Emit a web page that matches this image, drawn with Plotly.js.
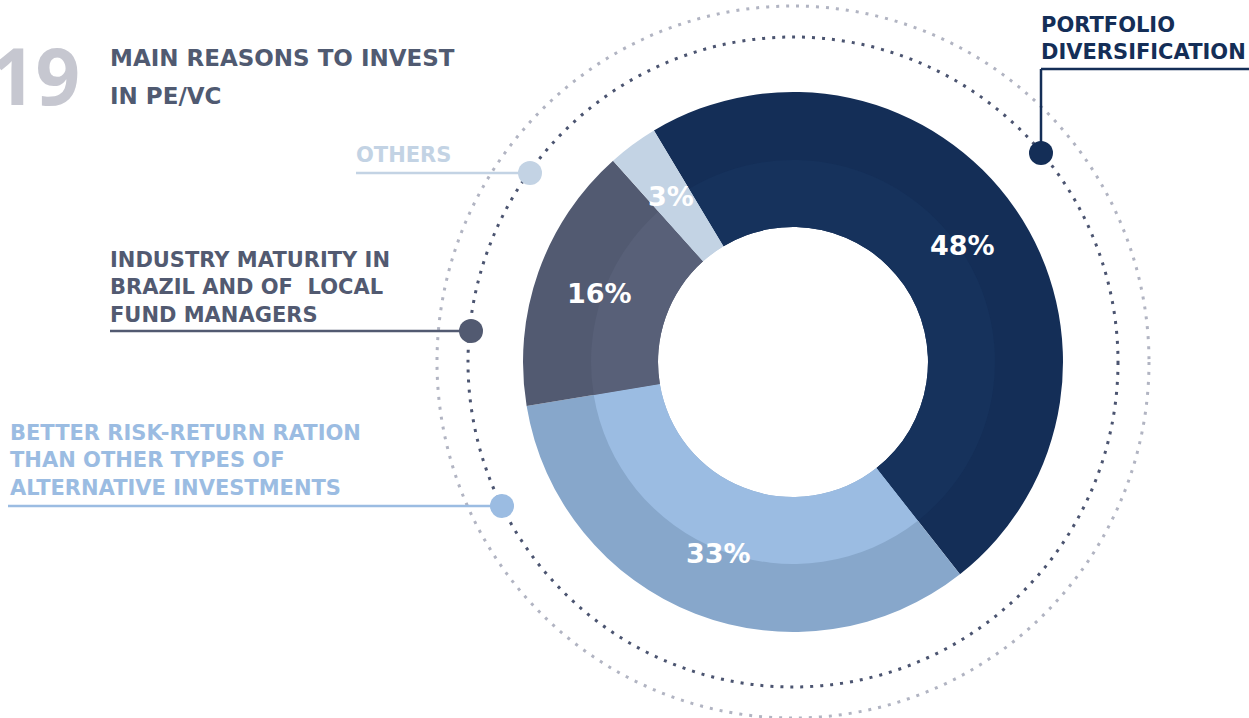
<!DOCTYPE html>
<html><head><meta charset="utf-8">
<script src="https://cdn.plot.ly/plotly-3.0.1.min.js"></script>
<style>html,body{margin:0;padding:0;background:#fff;overflow:hidden;} #chart{width:1249px;height:718px;}</style>
</head><body><div id="chart"></div>
<script>
// ---- data ----
const categories = ['PORTFOLIO DIVERSIFICATION',
  'BETTER RISK-RETURN RATION THAN OTHER TYPES OF ALTERNATIVE INVESTMENTS',
  'INDUSTRY MATURITY IN BRAZIL AND OF LOCAL FUND MANAGERS',
  'OTHERS'];
const values = [48, 33, 16, 3];
const valueLabels = ['48%', '33%', '16%', '3%'];
const chartNumber = '19';
const titleLines = ['MAIN REASONS TO INVEST', 'IN PE/VC'];
const labelLines = [
  ['PORTFOLIO', 'DIVERSIFICATION'],
  ['BETTER RISK-RETURN RATION', 'THAN OTHER TYPES OF', 'ALTERNATIVE INVESTMENTS'],
  ['INDUSTRY MATURITY IN', 'BRAZIL AND OF\u00a0 LOCAL', 'FUND MANAGERS'],
  ['OTHERS']
];

// ---- styles ----
const outerColors = ['#142e57', '#87a7cb', '#525a71', '#c3d3e4'];
const innerColors = ['#16325c', '#9bbce2', '#586078', '#c3d3e4'];
const labelColors = ['#142e57', '#9bbce2', '#525a71', '#c3d3e4'];
const FONT = '"DejaVu Sans", sans-serif';
const NUMFONT = '"Open Sans", sans-serif';

const W = 1249, H = 718, CX = 793, CY = 362, R_OUT = 270, R_MID = 202, R_IN = 135;
const ROT = -31;
const px = x => x / W;
const py = y => 1 - y / H;
function dom(r) { return {x: [px(CX - r), px(CX + r)], y: [py(CY + r), py(CY - r)]}; }

const base = {type: 'pie', values: values, labels: categories, sort: false,
  direction: 'clockwise', rotation: ROT, hoverinfo: 'skip', showlegend: false, textinfo: 'none'};

const traces = [
  Object.assign({}, base, {domain: dom(R_OUT), hole: R_IN / R_OUT,
    marker: {colors: outerColors, line: {width: 0}}}),
  Object.assign({}, base, {domain: dom(R_MID), hole: R_IN / R_MID,
    marker: {colors: innerColors, line: {width: 0}}})
];

// ---- decorations ----
const shapes = [];
function circ(cx, cy, r, opts) {
  return Object.assign({type: 'circle', xref: 'paper', yref: 'paper',
    x0: px(cx - r), x1: px(cx + r), y0: py(cy + r), y1: py(cy - r)}, opts);
}
function seg(x0, y0, x1, y1, color, w) {
  return {type: 'line', xref: 'paper', yref: 'paper', x0: px(x0), x1: px(x1),
    y0: py(y0), y1: py(y1), line: {color: color, width: w}};
}
shapes.push(circ(CX, CY, 356, {line: {color: '#b1b4c2', width: 3, dash: '3px,7px'}}));
shapes.push(circ(CX, CY, 325, {line: {color: '#4b5470', width: 3, dash: '3px,7px'}}));

shapes.push(seg(1041, 69, 1249, 69, labelColors[0], 2.5));
shapes.push(seg(1041, 69, 1041, 153, labelColors[0], 2.5));
shapes.push(circ(1041, 153, 12, {fillcolor: labelColors[0], line: {width: 0}}));

shapes.push(seg(8, 506, 496, 506, labelColors[1], 2.5));
shapes.push(circ(502, 506, 12, {fillcolor: labelColors[1], line: {width: 0}}));

shapes.push(seg(110, 331, 471, 331, labelColors[2], 2.5));
shapes.push(circ(471, 331, 12, {fillcolor: labelColors[2], line: {width: 0}}));

shapes.push(seg(356, 173, 530, 173, labelColors[3], 2.5));
shapes.push(circ(530, 173, 12, {fillcolor: labelColors[3], line: {width: 0}}));

const annotations = [];
function ann(text, x, yTop, size, color, anchor, family) {
  annotations.push({xref: 'paper', yref: 'paper', x: px(x), y: py(yTop),
    xanchor: anchor || 'left', yanchor: 'top', align: 'left', showarrow: false,
    text: text, font: {family: family || FONT, size: size, color: color, weight: 700}});
}
ann(chartNumber, 82, 20, 78, '#c6c7d0', 'right', NUMFONT);
ann(titleLines[0], 108, 43, 23, '#505a71');
ann(titleLines[1], 108, 81, 23, '#505a71');
ann(labelLines[0].join('<br>'), 1039, 11, 21, labelColors[0]);
ann(labelLines[1].join('<br>'), 8, 419, 21, labelColors[1]);
ann(labelLines[2].join('<br>'), 108, 246, 21, labelColors[2]);
ann(labelLines[3].join('<br>'), 354, 141, 21, labelColors[3]);

// value labels placed at each slice's mid-angle, derived from the values
const total = values.reduce((a, b) => a + b, 0);
let cum = 0;
const rLab = (R_IN + R_OUT) / 2 + 3;
values.forEach((v, i) => {
  const ang = (ROT + (cum + v / 2) / total * 360) * Math.PI / 180;
  cum += v;
  annotations.push({xref: 'paper', yref: 'paper',
    x: px(CX + rLab * Math.sin(ang)), y: py(CY - rLab * Math.cos(ang)),
    xanchor: 'center', yanchor: 'middle', showarrow: false, text: valueLabels[i],
    font: {family: FONT, size: 27, color: '#ffffff', weight: 700}});
});

const layout = {width: W, height: H, margin: {l: 0, r: 0, t: 0, b: 0},
  paper_bgcolor: '#ffffff', plot_bgcolor: '#ffffff', showlegend: false,
  shapes: shapes, annotations: annotations};

Plotly.newPlot('chart', traces, layout, {displayModeBar: false, staticPlot: true});
</script>
</body></html>
